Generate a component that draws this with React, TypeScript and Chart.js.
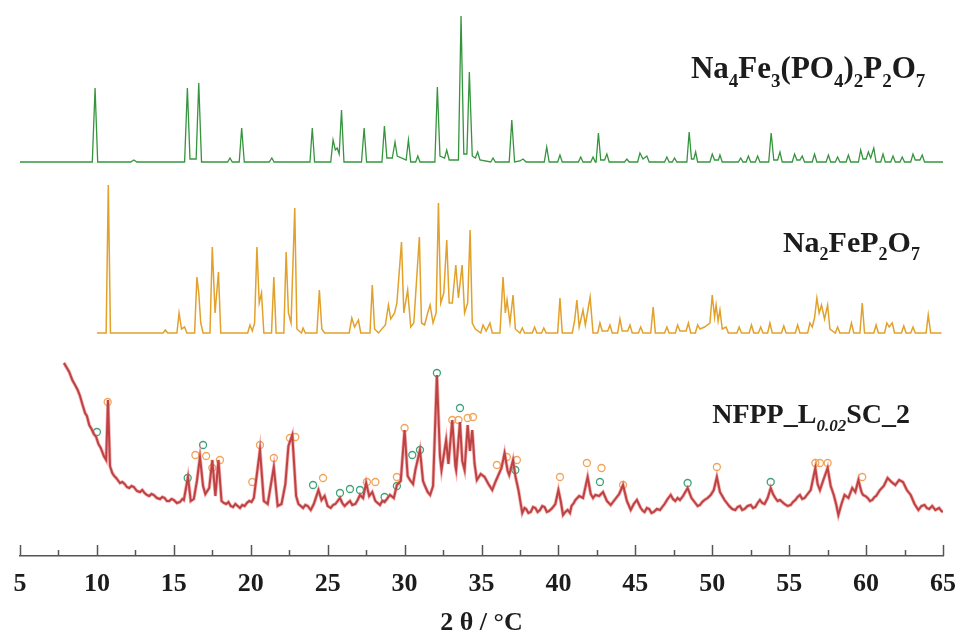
import React, { useEffect, useRef } from "react";
import { Chart, registerables } from "chart.js";

Chart.register(...registerables);

// 2θ range and ticks
const X_MIN = 5;
const X_MAX = 65;
const X_STEP = 5;
const MINOR_STEP = 2.5;

// vertical stacking offsets (arbitrary intensity units)
const GREEN_OFFSET = 394;
const ORANGE_OFFSET = 223;

const AXIS_TITLE = "2 θ / °C";

// Na4Fe3(PO4)2P2O7 reference pattern: [2θ, relative intensity]
const nfppRef: [number, number][] = [
  [5.0,0],[9.7,0],[9.88,74],[10.05,0],[12.2,0],[12.4,2],[12.6,0],[15.7,0],[15.88,74],[16.05,3],[16.45,3],[16.62,79],[16.8,0],
  [18.5,0],[18.65,4],[18.8,0],[19.25,0],[19.41,34],[19.58,0],[21.2,0],[21.37,4],[21.52,0],[23.85,0],[24.0,34],[24.15,0],
  [25.2,0],[25.35,22],[25.5,12],[25.62,14],[25.75,8],[25.9,52],[26.06,0],[27.2,0],[27.37,34],[27.53,0],[28.53,0],[28.69,36],
  [28.85,4],[29.2,4],[29.38,20],[29.52,6],[30.1,2],[30.25,22],[30.4,0],[30.72,0],[30.86,6],[31.0,0],[31.97,0],[32.13,75],
  [32.3,6],[32.6,4],[32.74,12],[32.9,2],[33.5,2],[33.67,146],[33.85,8],[34.05,8],[34.21,90],[34.4,6],[34.6,4],[34.75,10],
  [34.9,2],[35.6,0],[35.75,4],[35.9,0],[36.8,0],[36.97,42],[37.15,0],[37.5,1],[37.7,3],[37.9,0],[39.08,0],[39.24,15],[39.4,0],
  [39.95,0],[40.1,7],[40.25,0],[41.3,0],[41.45,5],[41.6,0],[42.1,0],[42.25,5],[42.4,0],[42.45,0],[42.6,29],[42.75,2],[43.0,2],
  [43.15,8],[43.3,0],[44.3,0],[44.45,3],[44.6,0],[45.15,0],[45.3,9],[45.5,3],[45.75,6],[45.9,0],[46.9,0],[47.05,5],[47.2,0],
  [47.4,0],[47.55,4],[47.7,0],[48.35,0],[48.5,30],[48.65,3],[48.8,3],[48.92,10],[49.05,0],[49.85,0],[50.0,8],[50.15,2],
  [50.4,2],[50.5,7],[50.65,0],[51.7,0],[51.85,4],[52.0,0],[52.2,0],[52.35,6],[52.5,0],[52.8,0],[52.95,6],[53.1,0],[53.67,0],
  [53.83,29],[54.0,2],[54.25,2],[54.4,10],[54.55,0],[55.2,0],[55.35,8],[55.5,2],[55.7,2],[55.85,6],[56.0,0],[56.5,0],[56.65,8],
  [56.8,0],[57.4,0],[57.55,7],[57.7,0],[58.0,0],[58.15,5],[58.3,0],[58.7,0],[58.85,7],[59.0,0],[59.5,0],[59.65,12],[59.8,3],
  [60.0,3],[60.15,10],[60.3,4],[60.5,14],[60.65,0],[60.95,0],[61.1,8],[61.25,0],[61.6,0],[61.75,6],[61.9,0],[62.2,0],[62.35,5],
  [62.5,0],[62.9,0],[63.05,8],[63.2,2],[63.5,2],[63.65,7],[63.8,0],[65.0,0],
];

// Na2FeP2O7 reference pattern: [2θ, relative intensity]
const nfpRef: [number, number][] = [
  [10.0,0],[10.6,0],[10.74,148],[10.88,0],[14.3,0],[14.45,3],[14.6,0],[15.2,0],[15.34,20],[15.5,4],[15.7,6],[15.85,0],
  [16.35,0],[16.5,56],[16.62,40],[16.75,10],[16.9,0],[17.35,0],[17.5,86],[17.68,20],[17.9,61],[18.05,0],[19.8,0],[19.95,8],
  [20.1,2],[20.25,10],[20.4,86],[20.55,30],[20.7,40],[20.85,0],[21.35,0],[21.5,56],[21.65,0],[22.15,0],[22.3,81],[22.45,20],
  [22.62,10],[22.86,125],[23.0,4],[23.3,0],[23.4,5],[23.55,0],[24.3,0],[24.46,43],[24.62,4],[24.8,0],[26.4,0],[26.57,15],
  [26.75,6],[27.0,13],[27.15,0],[27.75,0],[27.9,48],[28.05,4],[28.3,0],[28.75,8],[28.95,28],[29.1,14],[29.35,20],[29.5,30],
  [29.8,91],[29.95,20],[30.2,43],[30.4,6],[30.6,10],[30.96,96],[31.1,10],[31.3,8],[31.5,20],[31.66,28],[31.85,10],[32.05,20],
  [32.2,130],[32.35,30],[32.55,40],[32.74,93],[32.9,30],[33.1,30],[33.33,68],[33.5,35],[33.74,68],[33.9,20],[34.1,30],
  [34.26,103],[34.4,10],[34.6,4],[34.95,0],[35.1,8],[35.3,2],[35.55,10],[35.7,0],[36.2,0],[36.4,56],[36.55,20],[36.66,33],
  [36.85,10],[37.05,38],[37.2,4],[37.5,0],[37.65,5],[37.8,0],[38.3,0],[38.45,6],[38.6,0],[38.9,0],[39.05,5],[39.2,0],[39.95,0],
  [40.1,35],[40.25,0],[40.9,0],[41.05,12],[41.2,33],[41.35,6],[41.6,23],[41.75,8],[42.06,36],[42.25,0],[42.55,0],[42.7,10],
  [42.85,2],[43.2,2],[43.35,8],[43.5,0],[43.85,0],[44.0,14],[44.15,2],[44.5,2],[44.65,8],[44.8,0],[45.2,0],[45.35,6],[45.5,0],
  [46.0,0],[46.16,26],[46.3,0],[46.9,0],[47.05,6],[47.2,0],[47.6,0],[47.75,8],[47.9,2],[48.3,2],[48.45,10],[48.6,0],[48.9,0],
  [49.05,8],[49.2,4],[49.5,6],[49.85,10],[50.0,38],[50.15,16],[50.25,28],[50.38,12],[50.5,23],[50.65,4],[50.9,6],[51.05,0],
  [51.6,0],[51.75,6],[51.9,0],[52.4,0],[52.55,8],[52.7,0],[53.0,0],[53.15,6],[53.3,0],[53.6,0],[53.75,10],[53.9,0],[54.5,0],
  [54.65,7],[54.8,0],[55.4,0],[55.55,8],[55.7,0],[56.2,0],[56.35,10],[56.5,6],[56.65,15],[56.8,35],[56.95,20],[57.1,28],
  [57.3,14],[57.5,28],[57.65,4],[58.0,0],[58.15,6],[58.3,0],[58.9,0],[59.05,10],[59.2,0],[59.6,0],[59.75,30],[59.9,0],[60.5,0],
  [60.65,8],[60.8,0],[61.2,0],[61.35,10],[61.5,6],[61.7,10],[61.85,0],[62.3,0],[62.45,7],[62.6,0],[62.9,0],[63.05,6],[63.2,0],
  [63.9,0],[64.04,18],[64.2,0],[64.9,0],
];

// NFPP_L0.02SC_2 measured pattern: [2θ, intensity]
const sample: [number, number][] = [
  [7.86,193],[8.05,188],[8.2,184],[8.4,176],[8.58,171],[8.75,166],[8.9,160],[9.05,152],[9.23,143],[9.35,140],[9.5,131],
  [9.65,127],[9.8,122],[9.95,119],[10.1,112],[10.25,108],[10.45,100],[10.6,96],[10.72,156],[10.85,90],[11.0,83],[11.12,80],
  [11.25,78],[11.4,75],[11.5,73],[11.65,74],[11.8,72],[11.95,69],[12.1,68],[12.25,70],[12.4,69],[12.6,65],[12.8,64],
  [12.95,66],[13.1,63],[13.25,61],[13.4,60],[13.55,62],[13.7,61],[13.9,58],[14.1,57],[14.25,59],[14.4,58],[14.55,55],
  [14.7,55],[14.85,57],[15.0,56],[15.2,53],[15.4,54],[15.55,57],[15.65,56],[15.92,79],[16.1,55],[16.3,57],[16.5,75],
  [16.7,99],[16.9,70],[17.05,62],[17.3,68],[17.5,96],[17.7,60],[17.9,96],[18.1,55],[18.25,53],[18.4,52],[18.55,54],[18.7,50],
  [18.85,49],[19.0,52],[19.15,50],[19.3,48],[19.45,51],[19.6,50],[19.75,53],[19.9,55],[20.05,54],[20.2,58],[20.6,106],
  [20.85,55],[21.1,52],[21.5,89],[21.75,50],[22.0,52],[22.25,72],[22.45,110],[22.7,121],[22.95,60],[23.1,52],[23.25,50],
  [23.4,48],[23.55,51],[23.7,50],[23.9,46],[24.1,52],[24.4,66],[24.6,56],[24.8,60],[25.0,50],[25.2,48],[25.35,51],[25.5,52],
  [25.65,55],[25.8,58],[25.95,53],[26.1,50],[26.3,53],[26.45,55],[26.6,51],[26.8,52],[26.95,56],[27.1,61],[27.3,58],[27.5,73],
  [27.7,60],[27.9,64],[28.1,55],[28.25,53],[28.4,51],[28.55,55],[28.7,54],[28.9,58],[29.05,61],[29.3,58],[29.5,71],[29.75,75],
  [30.0,126],[30.2,80],[30.35,76],[30.55,72],[30.7,86],[31.0,106],[31.2,75],[31.3,71],[31.5,64],[31.66,61],[31.85,70],
  [32.1,181],[32.3,100],[32.4,86],[32.7,116],[32.85,92],[33.1,136],[33.3,90],[33.35,86],[33.6,134],[33.75,95],[33.9,86],
  [34.1,131],[34.25,105],[34.4,126],[34.55,92],[34.7,76],[34.95,82],[35.2,79],[35.45,72],[35.7,66],[35.9,74],[36.1,81],
  [36.3,88],[36.5,103],[36.7,85],[36.8,81],[37.05,96],[37.2,80],[37.4,66],[37.65,43],[37.8,48],[37.9,47],[38.05,43],[38.2,44],
  [38.35,49],[38.5,48],[38.65,44],[38.8,46],[38.95,50],[39.1,49],[39.25,44],[39.4,45],[39.6,48],[39.8,52],[40.0,66],
  [40.15,55],[40.3,41],[40.45,44],[40.6,46],[40.75,43],[40.85,50],[41.0,53],[41.1,56],[41.35,60],[41.6,58],[41.9,79],
  [42.1,62],[42.25,58],[42.4,61],[42.65,60],[42.9,64],[43.15,55],[43.4,51],[43.55,54],[43.7,57],[43.95,62],[44.2,71],
  [44.45,55],[44.7,46],[44.9,52],[45.1,56],[45.35,48],[45.5,45],[45.6,44],[45.75,48],[45.9,47],[46.05,43],[46.2,44],
  [46.4,47],[46.6,46],[46.75,49],[46.9,52],[47.1,57],[47.3,61],[47.45,57],[47.6,55],[47.75,58],[47.9,56],[48.1,60],[48.4,68],
  [48.65,58],[48.9,53],[49.05,50],[49.2,51],[49.35,54],[49.5,56],[49.7,58],[49.9,61],[50.1,66],[50.3,79],[50.5,64],[50.65,60],
  [50.8,56],[50.95,53],[51.1,50],[51.3,47],[51.5,46],[51.65,49],[51.8,50],[51.95,46],[52.1,47],[52.3,50],[52.5,51],[52.65,48],
  [52.8,49],[52.95,53],[53.1,56],[53.25,53],[53.4,52],[53.6,58],[53.8,68],[53.95,62],[54.1,58],[54.25,55],[54.4,56],
  [54.55,54],[54.7,52],[54.9,50],[55.1,51],[55.25,54],[55.4,56],[55.55,59],[55.7,61],[55.85,57],[56.0,58],[56.2,62],[56.4,66],
  [56.7,88],[56.85,72],[57.0,66],[57.2,75],[57.5,88],[57.7,70],[57.9,61],[58.05,52],[58.2,41],[58.4,52],[58.6,61],[58.85,58],
  [59.1,68],[59.3,64],[59.5,76],[59.7,64],[59.8,61],[59.95,60],[60.1,58],[60.25,55],[60.4,56],[60.55,59],[60.65,60],[60.9,66],
  [61.15,70],[61.4,78],[61.65,74],[61.9,71],[62.15,76],[62.4,74],[62.65,66],[62.9,61],[63.15,52],[63.4,46],[63.6,50],
  [63.8,51],[63.95,48],[64.1,47],[64.3,50],[64.5,46],[64.75,48],[64.9,45],[65.0,44],
];

// peak markers on the sample pattern: [2θ, intensity]
const markersNfp: [number, number][] = [
  [10.7,154],[16.4,101],[17.1,100],[17.5,88],[18.0,96],[20.1,74],[20.6,111],[21.5,98],[22.55,118],[22.9,119],[24.7,78],
  [27.55,74],[28.1,74],[29.5,79],[30.0,128],[33.1,136],[33.5,136],[34.1,138],[34.45,139],[36.0,91],[36.65,99],[37.3,96],
  [40.1,79],[41.85,93],[42.8,88],[44.2,71],[50.3,89],[56.7,93],[57.0,93],[57.5,93],[59.75,79],
];
const markersNfpp: [number, number][] = [
  [10.0,124],[15.9,78],[16.9,111],[24.05,71],[25.8,63],[26.45,67],[27.1,66],[28.7,59],[29.5,70],[30.5,101],[31.0,106],
  [32.1,183],[33.6,148],[37.2,86],[42.7,74],[48.4,73],[53.8,74],
];

type Run = { t: string; sub?: boolean; it?: boolean };
const LABEL_NFPP: Run[] = [
  { t: "Na" }, { t: "4", sub: true }, { t: "Fe" }, { t: "3", sub: true }, { t: "(PO" }, { t: "4", sub: true },
  { t: ")" }, { t: "2", sub: true }, { t: "P" }, { t: "2", sub: true }, { t: "O" }, { t: "7", sub: true },
];
const LABEL_NFP: Run[] = [
  { t: "Na" }, { t: "2", sub: true }, { t: "FeP" }, { t: "2", sub: true }, { t: "O" }, { t: "7", sub: true },
];
const LABEL_SAMPLE: Run[] = [
  { t: "NFPP_L" }, { t: "0.02", sub: true, it: true }, { t: "SC_2" },
];

const SERIF = '"Liberation Serif", "DejaVu Serif", serif';

const toXY = (arr: [number, number][], off = 0) => arr.map(([x, y]) => ({ x, y: y + off }));

const labelPlugin = {
  id: "phaseLabels",
  afterDatasetsDraw(chart: any) {
    const { ctx, scales } = chart;
    const xs = scales.x;
    const ys = scales.y;
    const items: { runs: Run[]; x: number; y: number; size: number }[] = [
      { runs: LABEL_NFPP, x: 63.85, y: 478, size: 31 },
      { runs: LABEL_NFP, x: 63.5, y: 304, size: 30 },
      { runs: LABEL_SAMPLE, x: 62.85, y: 133, size: 28 },
    ];
    ctx.save();
    ctx.fillStyle = "#1c1c1c";
    ctx.textBaseline = "alphabetic";
    ctx.textAlign = "left";
    for (const it of items) {
      const subSize = Math.round(it.size * 0.6);
      const fontFor = (r: Run) =>
        `${r.it ? "italic " : ""}bold ${r.sub ? subSize : it.size}px ${SERIF}`;
      let total = 0;
      for (const r of it.runs) {
        ctx.font = fontFor(r);
        total += ctx.measureText(r.t).width;
      }
      let px = xs.getPixelForValue(it.x) - total;
      const base = ys.getPixelForValue(it.y);
      for (const r of it.runs) {
        ctx.font = fontFor(r);
        ctx.fillText(r.t, px, base + (r.sub ? it.size * 0.28 : 0));
        px += ctx.measureText(r.t).width;
      }
    }
    ctx.restore();
  },
};

const tickPlugin = {
  id: "inwardTicks",
  afterDraw(chart: any) {
    const { ctx, scales } = chart;
    const xs = scales.x;
    ctx.save();
    ctx.strokeStyle = "#555";
    ctx.lineWidth = 1.5;
    for (let v = X_MIN; v <= X_MAX + 1e-9; v += MINOR_STEP) {
      const major = Math.abs(v / X_STEP - Math.round(v / X_STEP)) < 1e-6;
      const x = Math.round(xs.getPixelForValue(v)) + 0.5;
      ctx.beginPath();
      ctx.moveTo(x, xs.top);
      ctx.lineTo(x, xs.top - (major ? 11 : 6));
      ctx.stroke();
    }
    ctx.restore();
  },
};

export default function App() {
  const ref = useRef<HTMLCanvasElement | null>(null);
  useEffect(() => {
    if (!ref.current) return;
    const orange = "#E2A12B";
    const green = "#35953D";
    const chart = new Chart(ref.current, {
      type: "line",
      data: {
        datasets: [
          {
            label: "NFPP fit",
            data: toXY(sample),
            borderColor: "rgba(238,110,110,0.55)",
            borderWidth: 3.5,
            pointRadius: 0,
            tension: 0,
          },
          {
            label: "NFPP_L0.02SC_2",
            data: toXY(sample),
            borderColor: "#7E0E12",
            borderWidth: 2,
            pointRadius: 0,
            tension: 0,
          },
          {
            label: "Na2FeP2O7",
            data: toXY(nfpRef, ORANGE_OFFSET),
            borderColor: orange,
            borderWidth: 1.5,
            pointRadius: 0,
            tension: 0,
          },
          {
            label: "Na4Fe3(PO4)2P2O7",
            data: toXY(nfppRef, GREEN_OFFSET),
            borderColor: green,
            borderWidth: 1.3,
            pointRadius: 0,
            tension: 0,
          },
          {
            label: "Na2FeP2O7 peaks",
            data: toXY(markersNfp),
            showLine: false,
            pointStyle: "circle",
            pointRadius: 3.5,
            pointBorderWidth: 1.3,
            pointBorderColor: "#F0A558",
            pointBackgroundColor: "rgba(255,255,255,0)",
            borderColor: "#F0A558",
          },
          {
            label: "Na4Fe3(PO4)2P2O7 peaks",
            data: toXY(markersNfpp),
            showLine: false,
            pointStyle: "circle",
            pointRadius: 3.5,
            pointBorderWidth: 1.3,
            pointBorderColor: "#3FA27A",
            pointBackgroundColor: "rgba(255,255,255,0)",
            borderColor: "#3FA27A",
          },
        ],
      },
      options: {
        animation: false,
        responsive: false,
        parsing: false as any,
        normalized: true,
        layout: { padding: { top: 6, left: 20, right: 19, bottom: 0 } },
        plugins: { legend: { display: false }, tooltip: { enabled: false } },
        scales: {
          x: {
            type: "linear",
            min: X_MIN,
            max: X_MAX,
            grid: { display: false },
            border: { display: true, color: "#555", width: 1.5 },
            ticks: {
              stepSize: X_STEP,
              color: "#1c1c1c",
              padding: 5,
              maxRotation: 0,
              font: { family: SERIF, size: 26, weight: "bold" },
            },
            title: {
              display: true,
              text: AXIS_TITLE,
              color: "#1c1c1c",
              font: { family: SERIF, size: 26, weight: "bold", lineHeight: 0.75 },
              padding: { top: 0, bottom: 0 },
            },
            afterFit: (scale: any) => {
              scale.height = 77;
            },
          },
          y: {
            display: false,
            min: 0,
            max: 550,
          },
        },
      },
      plugins: [labelPlugin, tickPlugin],
    });
    return () => chart.destroy();
  }, []);
  return (
    <div style={{ position: "absolute", left: 0, top: 0, width: 962, height: 633, background: "#fff" }}>
      <canvas ref={ref} width={962} height={633} style={{ display: "block" }} />
    </div>
  );
}
